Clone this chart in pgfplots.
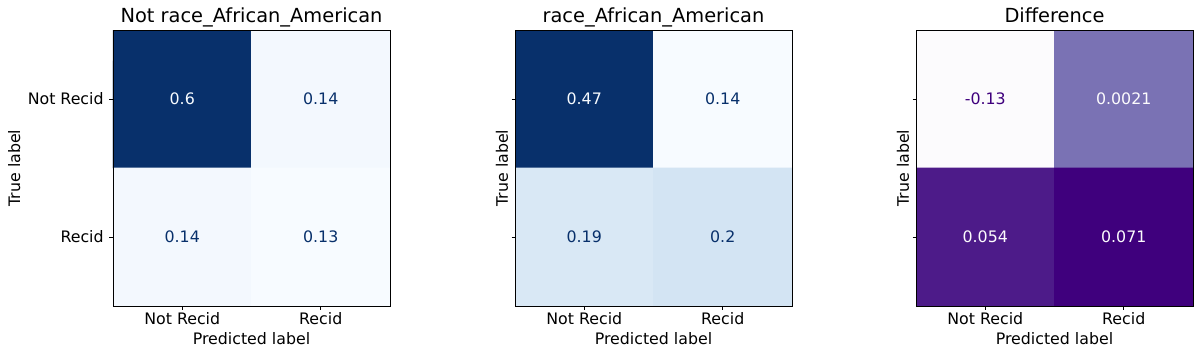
\documentclass[border=0pt]{standalone}
\usepackage{fontspec}
\setmainfont{DejaVu Sans}
\usepackage{pgfplots}
\pgfplotsset{compat=1.18}
\definecolor{bluedark}{RGB}{8,48,107}
\definecolor{bluelight}{RGB}{247,251,255}
\definecolor{purpdark}{RGB}{63,0,125}
\definecolor{purplight}{RGB}{252,251,253}
\pgfplotsset{
  colormap={blues}{rgb255=(247,251,255) rgb255=(222,235,247) rgb255=(198,219,239) rgb255=(158,202,225) rgb255=(107,174,214) rgb255=(66,146,198) rgb255=(33,113,181) rgb255=(8,81,156) rgb255=(8,48,107)},
  colormap={purples}{rgb255=(252,251,253) rgb255=(239,237,245) rgb255=(218,218,235) rgb255=(188,189,220) rgb255=(158,154,200) rgb255=(128,125,186) rgb255=(106,81,163) rgb255=(84,39,143) rgb255=(63,0,125)},
  cm/.style={
    scale only axis, width=138.5pt, height=138pt, anchor=south west,
    xmin=-0.5, xmax=1.5, ymin=-0.5, ymax=1.5, y dir=reverse,
    axis on top,
    xtick={0,1}, ytick={0,1}, xticklabels={Not Recid,Recid},
    tick align=outside, major tick length=1.75pt,
    xtick pos=bottom, ytick pos=left,
    axis line style={line width=0.4pt},
    every tick/.style={black, line width=0.4pt},
    tick label style={font=\fontsize{7.9}{9}\selectfont},
    xticklabel style={inner sep=0pt, anchor=base, yshift=-7.5pt},
    yticklabel style={inner sep=0pt, anchor=east, xshift=-2.75pt},
    label style={font=\fontsize{7.9}{9}\selectfont},
    title style={font=\fontsize{9.7}{11}\selectfont, at={(axis description cs:0.5,1)}, anchor=base, yshift=-2.25pt, inner sep=0pt},
    xlabel={Predicted label}, ylabel={True label},
    xlabel style={at={(axis description cs:0.5,0)}, anchor=base, yshift=-19.25pt, inner sep=0pt},
  },
  numtext/.style={draw=none, nodes near coords, point meta=explicit symbolic,
    every node near coord/.append style={anchor=center, font=\fontsize{7.9}{9}\selectfont, text=#1}},
}
\begin{document}
\begin{tikzpicture}
\useasboundingbox (0,0) rectangle (600pt,177.5pt);
% Panel 1
\begin{axis}[cm, at={(56.5pt,24.5pt)}, title={Not race\_African\_American},
  colormap name=blues, point meta min=0.13, point meta max=0.6,
  yticklabels={Not Recid,Recid},
  ylabel style={at={(axis description cs:-0.3357,0.5)}, anchor=base, inner sep=0pt}]
\addplot[matrix plot*, mesh/cols=2, point meta=explicit] table[meta=c] {
x y c
0 0 0.6
1 0 0.14
0 1 0.14
1 1 0.13
};
\addplot[numtext=bluelight] table[meta=l] {
x y l
0 0 0.6
};
\addplot[numtext=bluedark] table[meta=l] {
x y l
1 0 0.14
0 1 0.14
1 1 0.13
};
\end{axis}
% Panel 2
\begin{axis}[cm, at={(257.5pt,24.5pt)}, title={race\_African\_American},
  colormap name=blues, point meta min=0.14, point meta max=0.47,
  yticklabels={{},{}},
  ylabel style={at={(axis description cs:-0.0253,0.5)}, anchor=base, inner sep=0pt}]
\addplot[matrix plot*, mesh/cols=2, point meta=explicit] table[meta=c] {
x y c
0 0 0.47
1 0 0.14
0 1 0.19
1 1 0.2
};
\addplot[numtext=bluelight] table[meta=l] {
x y l
0 0 0.47
};
\addplot[numtext=bluedark] table[meta=l] {
x y l
1 0 0.14
0 1 0.19
1 1 0.2
};
\end{axis}
% Panel 3
\begin{axis}[cm, at={(458pt,24.5pt)}, title={Difference},
  colormap name=purples, point meta min=-0.13, point meta max=0.071,
  yticklabels={{},{}},
  ylabel style={at={(axis description cs:-0.0253,0.5)}, anchor=base, inner sep=0pt}]
\addplot[matrix plot*, mesh/cols=2, point meta=explicit] table[meta=c] {
x y c
0 0 -0.13
1 0 0.0021
0 1 0.054
1 1 0.071
};
\addplot[numtext=purpdark] table[meta=l] {
x y l
0 0 -0.13
};
\addplot[numtext=purplight] table[meta=l] {
x y l
1 0 0.0021
0 1 0.054
1 1 0.071
};
\end{axis}
\end{tikzpicture}
\end{document}
